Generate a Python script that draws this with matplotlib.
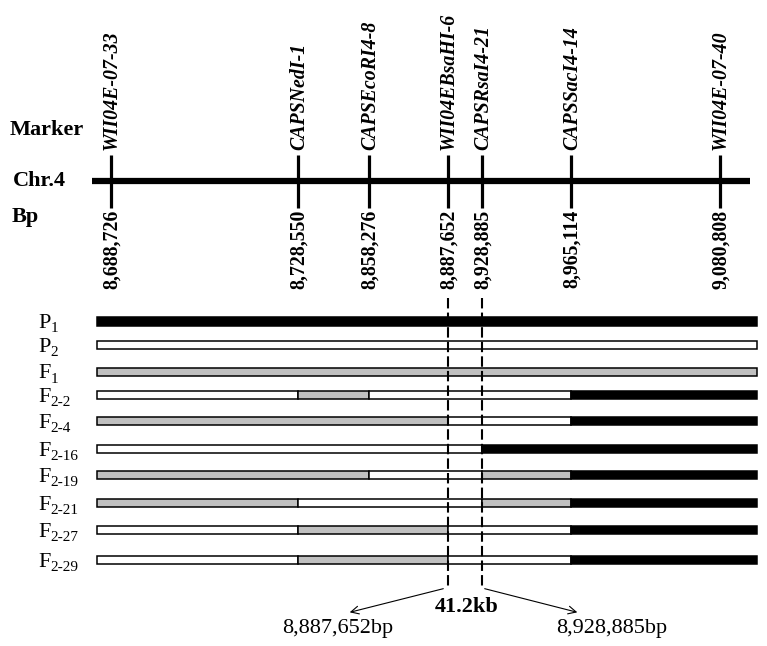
import matplotlib.pyplot as plt

plt.rcParams['font.family'] = ['Liberation Serif', 'DejaVu Serif']

# markers on chr.4
markers = ['WII04E-07-33', 'CAPSNedI-1', 'CAPSEcoRI4-8', 'WII04EBsaHI-6',
           'CAPSRsaI4-21', 'CAPSSacI4-14', 'WII04E-07-40']
bp = [8688726, 8728550, 8858276, 8887652, 8928885, 8965114, 9080808]

# genotypes per interval between bar start, markers 2..6, bar end
# A = P1 (black), B = P2 (white), H = heterozygous (grey)
lines = ['P', 'P', 'F', 'F', 'F', 'F', 'F', 'F', 'F', 'F']
subs = ['1', '2', '1', '2-2', '2-4', '2-16', '2-19', '2-21', '2-27', '2-29']
genos = ['AAAAAA',
         'BBBBBB',
         'HHHHHH',
         'BHBBBA',
         'HHHBBA',
         'BBBBAA',
         'HHBBHA',
         'HBBBHA',
         'BHHBBA',
         'BHHBBA']
left_pos, right_pos = 8887652, 8928885

# layout (pixels)
mx = [111, 298, 369, 448, 482, 571, 720]
row_y = [321, 345, 371.5, 395, 420.5, 448.5, 475, 503, 530, 560]
bar_l, bar_r = 97, 757
colors = {'A': 'black', 'B': 'white', 'H': '#c0c0c0'}

fig = plt.figure(figsize=(7.67, 6.46), dpi=100)
ax = fig.add_axes([0, 0, 1, 1])
ax.set_xlim(0, 767)
ax.set_ylim(646, 0)
ax.axis('off')

# chromosome
ax.plot([92, 750], [181, 181], color='black', lw=4.5, solid_capstyle='butt')
ax.vlines(mx, 155, 208, color='black', lw=2.3)
for x, name, b in zip(mx, markers, bp):
    ax.text(x + 1, 150, name, rotation=90, ha='center', va='bottom',
            fontsize=14.3, fontweight='bold', fontstyle='italic')
    ax.text(x + 1, 210, f'{b:,}', rotation=90, ha='center', va='top',
            fontsize=14.3, fontweight='bold')

ax.text(10, 130, 'Marker', ha='left', va='center', fontsize=16, fontweight='bold')
ax.text(13, 181, 'Chr.4', ha='left', va='center', fontsize=16, fontweight='bold')
ax.text(12, 222, 'Bp', ha='left', va='baseline', fontsize=16, fontweight='bold')

# genotype bars, merging runs of the same genotype
edges = [bar_l] + mx[1:6] + [bar_r]
for y, g, m, s in zip(row_y, genos, lines, subs):
    h = 9 if g == 'AAAAAA' else 8
    i = 0
    while i < len(g):
        j = i
        while j + 1 < len(g) and g[j + 1] == g[i]:
            j += 1
        ax.barh(y, edges[j + 1] - edges[i], left=edges[i], height=h,
                color=colors[g[i]], edgecolor='black', lw=1.1)
        i = j + 1
    t = ax.text(38, y + 7, m, ha='left', va='baseline', fontsize=16)
    ax.annotate(s, xy=(1, 0), xycoords=t, xytext=(0, 0.5),
                textcoords='offset points', ha='left', va='baseline',
                fontsize=11)

# interval lines
ax.vlines([mx[3], mx[4]], 298, 588, color='black', lw=1.5,
          linestyles=(0, (5, 2)))
ax.annotate('', xy=(347, 613), xytext=(mx[3] - 2, 588),
            arrowprops=dict(arrowstyle='->', lw=0.8, mutation_scale=14))
ax.annotate('', xy=(580, 613), xytext=(mx[4], 588),
            arrowprops=dict(arrowstyle='->', lw=0.8, mutation_scale=14))
ax.text(467, 607, f'{(right_pos - left_pos) / 1000:.1f}kb', ha='center',
        va='center', fontsize=16, fontweight='bold')
ax.text(338, 629, f'{left_pos:,}bp', ha='center', va='center', fontsize=16)
ax.text(612, 629, f'{right_pos:,}bp', ha='center', va='center', fontsize=16)

fig.savefig('out.png', dpi=100)
